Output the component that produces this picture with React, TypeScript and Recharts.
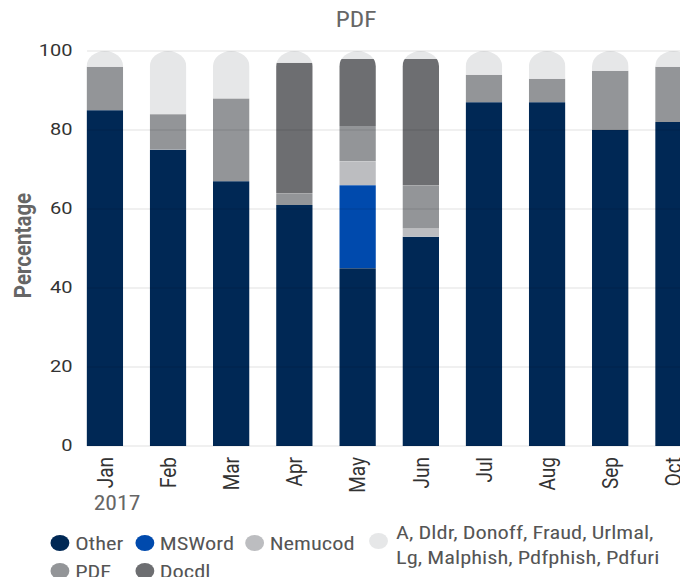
import React from 'react';
import { BarChart, Bar, XAxis, YAxis, ReferenceLine, Legend } from 'recharts';

// ---- data ----
const months = ['Jan', 'Feb', 'Mar', 'Apr', 'May', 'Jun', 'Jul', 'Aug', 'Sep', 'Oct'];
const yearLabel = '2017';
const other = [85, 75, 67, 61, 45, 53, 87, 87, 80, 82];
const msword = [0, 0, 0, 0, 21, 0, 0, 0, 0, 0];
const nemucod = [0, 0, 0, 0, 6, 2, 0, 0, 0, 0];
const pdf = [11, 9, 21, 3, 9, 11, 7, 6, 15, 14];
const docdl = [0, 0, 0, 33, 17, 32, 0, 0, 0, 0];
const misc = [4, 16, 12, 3, 2, 2, 6, 7, 5, 4];
const yTicks = [0, 20, 40, 60, 80, 100];
const title = 'PDF';
const yTitle = 'Percentage';

const series = [
  { key: 'other', name: 'Other', color: '#002855', values: other },
  { key: 'msword', name: 'MSWord', color: '#004aad', values: msword },
  { key: 'nemucod', name: 'Nemucod', color: '#bcbdc0', values: nemucod },
  { key: 'pdf', name: 'PDF', color: '#939598', values: pdf },
  { key: 'docdl', name: 'Docdl', color: '#6d6e71', values: docdl },
  { key: 'misc', name: 'A, Dldr, Donoff, Fraud, Urlmal, Lg, Malphish, Pdfphish, Pdfuri', color: '#e6e7e8', values: misc },
];

const data = months.map((m, i) => {
  const row: any = { month: m };
  series.forEach((s) => { row[s.key] = s.values[i]; });
  return row;
});

// ---- layout / style ----
const SX = 1.18;
const W = 592;
const H = 569;
const MARGIN = { top: 43, right: 1, bottom: 0, left: 0 };
const DARK_FONT = "Roboto, 'Liberation Sans', sans-serif";
const NARROW_FONT = "'Liberation Sans Narrow', 'Roboto Condensed', 'Arial Narrow', sans-serif";

const legendLayout: Record<string, { left: number; cy: number; gap: number; width?: number }> = {
  other: { left: 36.4, cy: 535, gap: 4.5 },
  msword: { left: 107.6, cy: 535, gap: 5 },
  nemucod: { left: 200.8, cy: 535, gap: 5 },
  misc: { left: 305.9, cy: 532.5, gap: 7, width: 226 },
  pdf: { left: 36.4, cy: 563, gap: 4.5 },
  docdl: { left: 107.6, cy: 563, gap: 5 },
};

const PillShape = (props: any) => {
  const { x, y, width, height, fill, index, sid, background } = props;
  if (!height || height <= 0.01) return null;
  const top = background && typeof background.y === 'number' ? background.y : MARGIN.top;
  const bottom = y + height;
  const r = width / 2;
  const pb = Math.max(bottom, top + r);
  const d = `M${x},${pb} L${x},${top + r} A${r},${r} 0 0 1 ${x + width},${top + r} L${x + width},${pb} Z`;
  const id = `clip-${sid}-${index}`;
  return (
    <g>
      <defs>
        <clipPath id={id}>
          <rect x={x} y={y} width={width} height={height} />
        </clipPath>
      </defs>
      <path d={d} fill={fill} clipPath={`url(#${id})`} />
    </g>
  );
};

const XTick = (props: any) => {
  const { x, y, payload, index } = props;
  return (
    <g>
      <text
        x={x}
        y={y}
        transform={`rotate(-90 ${x} ${y})`}
        textAnchor="end"
        dominantBaseline="central"
        fontFamily={DARK_FONT}
        fontSize={19}
        fill="#333"
      >
        {payload.value}
      </text>
      {index === 0 && (
        <text
          x={x + 10}
          y={y + 46}
          textAnchor="middle"
          dominantBaseline="central"
          fontFamily={NARROW_FONT}
          fontSize={20}
          fill="#666"
        >
          {yearLabel}
        </text>
      )}
    </g>
  );
};

const YTick = (props: any) => {
  const { x, y, payload } = props;
  return (
    <text x={x} y={y} textAnchor="end" dominantBaseline="central" fontFamily={DARK_FONT} fontSize={17} fill="#333">
      {payload.value}
    </text>
  );
};

const YTitle = (props: any) => {
  const vb = props.viewBox || { x: 0, y: MARGIN.top, width: 67, height: 395 };
  const cx = vb.x + 12.3;
  const cy = vb.y + vb.height / 2 - 3;
  return (
    <text
      x={cx}
      y={cy}
      transform={`rotate(-90 ${cx} ${cy})`}
      textAnchor="middle"
      dominantBaseline="central"
      fontFamily={DARK_FONT}
      fontWeight="bold"
      fontSize={20.5}
      fill="#666"
    >
      {yTitle}
    </text>
  );
};

const LegendContent = () => (
  <div style={{ position: 'relative', width: 0, height: 0 }}>
    {series.map((s) => {
      const l = legendLayout[s.key];
      const multi = !!l.width;
      return (
        <div key={s.key}>
          <div
            style={{
              position: 'absolute',
              left: l.left,
              top: l.cy - 8,
              width: 16,
              height: 16,
              borderRadius: 8,
              background: s.color,
            }}
          />
          <div
            style={{
              position: 'absolute',
              left: l.left + 16 + l.gap,
              top: multi ? l.cy - 21 : l.cy - 12.5,
              width: multi ? l.width : undefined,
              whiteSpace: multi ? 'normal' : 'nowrap',
              fontFamily: NARROW_FONT,
              fontSize: 19,
              lineHeight: '25px',
              color: '#555',
              textAlign: 'left',
            }}
          >
            {s.name}
          </div>
        </div>
      );
    })}
  </div>
);

export default function App() {
  return (
    <>
      <style>{'#root{width:680px;}'}</style>
      <div style={{ width: 680, height: H, overflow: 'hidden', position: 'relative' }}>
        <div style={{ width: W, height: H, transform: `scaleX(${SX})`, transformOrigin: '0 0' }}>
          <BarChart width={W} height={H} data={data} margin={MARGIN}>
            <text
              x={295}
              y={12}
              textAnchor="middle"
              dominantBaseline="central"
              fontFamily={NARROW_FONT}
              fontSize={21.5}
              fill="#666"
            >
              {title}
            </text>
            <XAxis
              dataKey="month"
              type="category"
              interval={0}
              padding={{ left: -11.4, right: 0 }}
              axisLine={false}
              tickLine={false}
              tickSize={0}
              tickMargin={11}
              height={131}
              tick={<XTick />}
            />
            <YAxis
              type="number"
              domain={[0, 100]}
              ticks={yTicks}
              width={67}
              axisLine={false}
              tickLine={false}
              tickSize={0}
              tickMargin={12.3}
              tick={<YTick />}
              label={{ content: <YTitle /> } as any}
            />
            {series.map((s) => (
              <Bar
                key={s.key}
                dataKey={s.key}
                name={s.name}
                stackId="a"
                fill={s.color}
                barSize={31}
                isAnimationActive={false}
                shape={(p: any) => <PillShape {...p} sid={s.key} />}
              />
            ))}
            {yTicks.map((t) => (
              <ReferenceLine key={t} y={t} stroke="#000" strokeOpacity={0.12} strokeWidth={1} zIndex={1500} />
            ))}
            <Legend
              verticalAlign="bottom"
              content={<LegendContent />}
              wrapperStyle={{ top: 0, left: 0, width: 0, height: 0, overflow: 'visible' }}
            />
          </BarChart>
        </div>
      </div>
    </>
  );
}
